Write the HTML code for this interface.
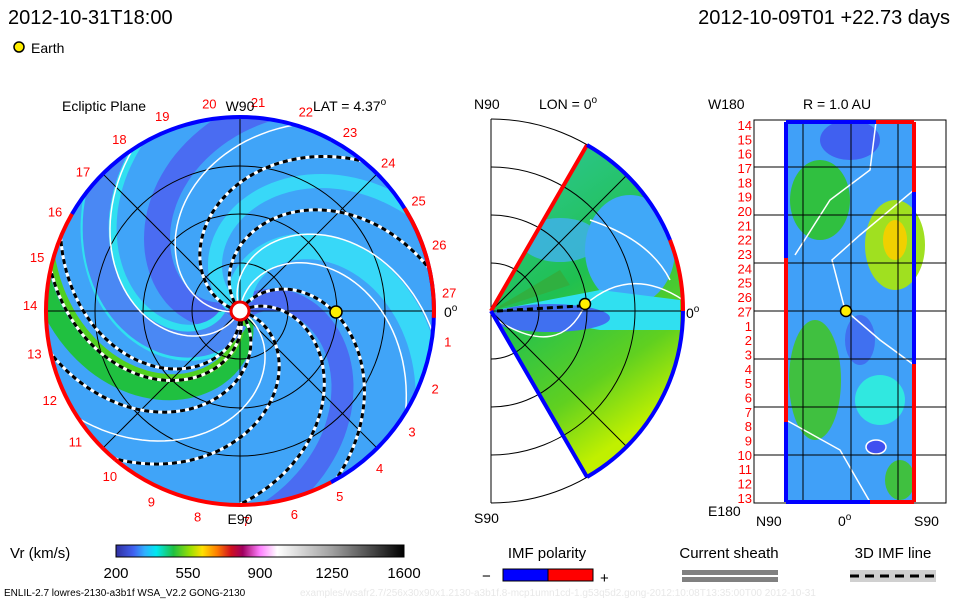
<!DOCTYPE html>
<html><head><meta charset="utf-8"><style>
body{margin:0;background:#fff;width:960px;height:600px;overflow:hidden}
svg{display:block;font-family:"Liberation Sans",sans-serif}
</style></head><body>
<svg id="s" width="960" height="600" viewBox="0 0 960 600">
<defs>
<clipPath id="disk"><circle cx="240" cy="311" r="194"/></clipPath>
<clipPath id="wedge"><path d="M491 311 L587 145 A192 192 0 0 1 587 477 Z"/></clipPath>
<linearGradient id="cb" x1="0" x2="1">
<stop offset="0" stop-color="#3030a0"/><stop offset="0.06" stop-color="#4060f0"/><stop offset="0.1" stop-color="#30b0ff"/>
<stop offset="0.14" stop-color="#00e8f0"/><stop offset="0.2" stop-color="#20c040"/><stop offset="0.26" stop-color="#a0e000"/>
<stop offset="0.3" stop-color="#ffe000"/><stop offset="0.35" stop-color="#ff8000"/><stop offset="0.4" stop-color="#d01020"/>
<stop offset="0.44" stop-color="#a00060"/><stop offset="0.5" stop-color="#ff80ff"/><stop offset="0.56" stop-color="#ffffff"/>
<stop offset="0.75" stop-color="#a0a0a0"/><stop offset="1" stop-color="#000"/></linearGradient>
<linearGradient id="wg" x1="0" y1="0" x2="0.4" y2="1">
<stop offset="0" stop-color="#30c8a0"/><stop offset="0.5" stop-color="#20c050"/><stop offset="0.8" stop-color="#60d020"/><stop offset="1" stop-color="#c0f000"/></linearGradient>
</defs>
<text x="8" y="24" font-size="20">2012-10-31T18:00</text>
<text x="950" y="24" font-size="20" text-anchor="end">2012-10-09T01 +22.73 days</text>
<circle cx="19" cy="47" r="5" fill="#ffee00" stroke="#000" stroke-width="1.5"/>
<text x="31" y="53" font-size="14">Earth</text>

<g id="ecl">
<circle cx="240" cy="311" r="194" fill="#40a4f8"/>
<g id="bands" clip-path="url(#disk)"></g>
<g id="grid1"></g>
<g id="arms" clip-path="url(#disk)"></g>
<g id="rim"></g>
<circle cx="240" cy="311" r="9" fill="#fff" stroke="#e00" stroke-width="3"/>
<circle cx="336" cy="312" r="6" fill="#ffee00" stroke="#000" stroke-width="1.5"/>
<text x="62" y="111" font-size="14">Ecliptic Plane</text>
<text x="313" y="111" font-size="14">LAT = 4.37<tspan dy="-6" font-size="10">o</tspan></text>
<text x="240" y="111" font-size="14" text-anchor="middle">W90</text>
<text x="240" y="524" font-size="14" text-anchor="middle">E90</text>
<text x="444" y="317" font-size="14">0<tspan dy="-6" font-size="10">o</tspan></text>
</g>

<g>
<path d="M491 311 L587 145 A192 192 0 0 1 587 477 Z" fill="url(#wg)"/>
<g clip-path="url(#wedge)">
<ellipse cx="560" cy="240" rx="40" ry="22" fill="#40b0f0" opacity="0.8"/>
<ellipse cx="630" cy="250" rx="45" ry="55" fill="#40a8f8"/>
<path d="M491 311 L600 290 L680 300 L680 330 L600 330 Z" fill="#30e0f0"/>
<ellipse cx="550" cy="318" rx="60" ry="14" fill="#4070f0"/>
<path d="M491 311 L560 270 L570 285 Z" fill="#30b040"/>
<path d="M497 320 Q560 360 585 305 Q630 265 683 300" fill="none" stroke="#fff" stroke-width="1.5"/>
<path d="M590 220 Q650 240 670 280" fill="none" stroke="#fff" stroke-width="1.5"/>
</g>
<g id="grid2"></g>
<path d="M491 311 L587 145" stroke="#f00" stroke-width="4"/>
<path d="M491 311 L587 477" stroke="#00f" stroke-width="4"/>
<path d="M587 145 A192 192 0 0 1 670 240" fill="none" stroke="#00f" stroke-width="4"/>
<path d="M670 240 A192 192 0 0 1 683 311" fill="none" stroke="#f00" stroke-width="4"/>
<path d="M683 311 A192 192 0 0 1 587 477" fill="none" stroke="#00f" stroke-width="4"/>
<path d="M497 311 L580 306" stroke="#000" stroke-width="3" stroke-dasharray="6,4"/>
<circle cx="585" cy="304" r="5.5" fill="#ffee00" stroke="#000" stroke-width="1.5"/>
<text x="474" y="109" font-size="14">N90</text>
<text x="539" y="109" font-size="14">LON = 0<tspan dy="-6" font-size="10">o</tspan></text>
<text x="474" y="523" font-size="14">S90</text>
<text x="686" y="318" font-size="14">0<tspan dy="-6" font-size="10">o</tspan></text>
</g>

<g>
<rect x="786" y="122" width="128" height="380" fill="#40a0f8"/>
<ellipse cx="820" cy="200" rx="30" ry="40" fill="#30c040"/>
<ellipse cx="895" cy="245" rx="30" ry="45" fill="#a0e020"/>
<ellipse cx="895" cy="240" rx="12" ry="20" fill="#f0d000"/>
<ellipse cx="815" cy="380" rx="26" ry="60" fill="#40c040"/>
<ellipse cx="850" cy="140" rx="30" ry="20" fill="#4060f0"/>
<ellipse cx="860" cy="340" rx="15" ry="25" fill="#4070f0"/>
<ellipse cx="880" cy="400" rx="25" ry="25" fill="#30e8e0"/>
<ellipse cx="900" cy="480" rx="15" ry="20" fill="#40c040"/>
<path d="M876 122 L870 170 L830 200 L795 255" fill="none" stroke="#fff" stroke-width="1.5"/>
<path d="M914 190 L860 235 L832 260 L845 310 L880 340 L914 365" fill="none" stroke="#fff" stroke-width="1.5"/>
<path d="M786 420 L840 450 L870 502" fill="none" stroke="#fff" stroke-width="1.5"/>
<ellipse cx="876" cy="447" rx="10" ry="7" fill="#4050f0" stroke="#fff" stroke-width="1.5"/>
<rect x="754" y="120" width="192" height="383" fill="none" stroke="#000"/>
<g id="grid3"></g>
<path d="M786 122 L876 122" stroke="#00f" stroke-width="4"/><path d="M876 122 L914 122" stroke="#f00" stroke-width="4"/>
<path d="M786 502 L870 502" stroke="#00f" stroke-width="4"/><path d="M870 502 L914 502" stroke="#f00" stroke-width="4"/>
<path d="M786 122 L786 258" stroke="#00f" stroke-width="4"/><path d="M786 258 L786 422" stroke="#f00" stroke-width="4"/><path d="M786 422 L786 502" stroke="#00f" stroke-width="4"/>
<path d="M914 122 L914 192" stroke="#f00" stroke-width="4"/><path d="M914 192 L914 364" stroke="#00f" stroke-width="4"/><path d="M914 364 L914 502" stroke="#f00" stroke-width="4"/>
<circle cx="846" cy="311" r="5.5" fill="#ffee00" stroke="#000" stroke-width="1.5"/>
<text x="803" y="109" font-size="14">R = 1.0 AU</text>
<text x="708" y="109" font-size="14">W180</text>
<text x="708" y="516" font-size="14">E180</text>
<text x="756" y="526" font-size="14">N90</text>
<text x="838" y="526" font-size="14">0<tspan dy="-6" font-size="10">o</tspan></text>
<text x="914" y="526" font-size="14">S90</text>
<g id="ylab"></g>
</g>

<g>
<text x="10" y="558" font-size="15">Vr (km/s)</text>
<rect x="116" y="545" width="288" height="12" fill="url(#cb)" stroke="#000"/>
<g id="cbt"></g>
</g>
<g>
<text x="547" y="558" font-size="15" text-anchor="middle">IMF polarity</text>
<rect x="503" y="569" width="45" height="12" fill="#00f" stroke="#000"/><rect x="548" y="569" width="45" height="12" fill="#f00" stroke="#000"/>
<text x="482" y="581" font-size="15">−</text><text x="600" y="583" font-size="15">+</text>
</g>
<g>
<text x="729" y="558" font-size="15" text-anchor="middle">Current sheath</text>
<rect x="682" y="570" width="96" height="5" fill="#808080"/><rect x="682" y="577" width="96" height="5" fill="#808080"/>
</g>
<g>
<text x="893" y="558" font-size="15" text-anchor="middle">3D IMF line</text>
<rect x="850" y="570" width="86" height="12" fill="#d0d0d0"/>
<path d="M850 576 L936 576" stroke="#000" stroke-width="3" stroke-dasharray="9,6"/>
</g>
<text x="4" y="596" font-size="10">ENLIL-2.7 lowres-2130-a3b1f WSA_V2.2 GONG-2130</text>
<text x="300" y="596" font-size="10" fill="#e8e8e8">examples/wsafr2.7/256x30x90x1.2130-a3b1f.8-mcp1umn1cd-1.g53q5d2.gong-2012:10:08T13:35:00T00   2012-10-31</text>
</svg>
<script>
const armStarts=[167,129,56,26,-14,-51,-76,-86];
const whiteStarts=[190,110,85,-30,-120];
const cbTicks=[200,550,900,1250,1600];
const carrLabels=[27,1,2,3,4,5,6,7,8,9,10,11,12,13,14,15,16,17,18,19,20,21,22,23,24,25,26];
const sphereLabels=[14,15,16,17,18,19,20,21,22,23,24,25,26,27,1,2,3,4,5,6,7,8,9,10,11,12,13];
const NS='http://www.w3.org/2000/svg';
const cx=240,cy=311,R=194,K=0.6;
function mk(t,a,p){const e=document.createElementNS(NS,t);for(const k in a)e.setAttribute(k,a[k]);p.appendChild(e);return e;}
function spiral(t0){let d='';for(let r=10;r<=R+20;r+=4){const th=(t0-K*r)*Math.PI/180;d+=(r==10?'M':'L')+(cx+r*Math.cos(th)).toFixed(1)+' '+(cy-r*Math.sin(th)).toFixed(1);}return d;}
const bands=document.getElementById('bands');
[[205,'#4a6cf2',26],[40,'#4a6cf2',22],[100,'#38d8f8',26],[150,'#38d8f8',14],[-112,'#30e0f0',36],[-68,'#20c040',20],[-78,'#50d020',8],[250,'#4a88f4',26]].forEach(b=>{
const e=mk('path',{d:spiral(b[0]),fill:'none',stroke:b[1],'stroke-width':b[2]},bands);

});
const g1=document.getElementById('grid1');
[48,97,145,194].forEach(r=>mk('circle',{cx,cy,r,fill:'none',stroke:'#000','stroke-width':1},g1));
[0,45,90,135].forEach(a=>{const t=a*Math.PI/180;mk('line',{x1:cx-R*Math.cos(t),y1:cy-R*Math.sin(t),x2:cx+R*Math.cos(t),y2:cy+R*Math.sin(t),stroke:'#000','stroke-width':1},g1);});
const arms=document.getElementById('arms');
whiteStarts.forEach(t=>{const e=mk('path',{d:spiral(t),fill:'none',stroke:'#fff','stroke-width':1.5},arms);

});
armStarts.forEach(t=>{mk('path',{d:spiral(t),fill:'none',stroke:'#fff','stroke-width':3},arms);
const e=mk('path',{d:spiral(t),fill:'none',stroke:'#000','stroke-width':3,'stroke-dasharray':'5,4'},arms);

});
const rim=document.getElementById('rim');
function arc(a0,a1,c){const p=a=>[cx+R*Math.cos(a*Math.PI/180),cy-R*Math.sin(a*Math.PI/180)];const s=p(a0),e=p(a1);
mk('path',{d:`M${s[0]} ${s[1]} A${R} ${R} 0 ${a1-a0>180?1:0} 0 ${e[0]} ${e[1]}`,fill:'none',stroke:c,'stroke-width':4},rim);}
arc(0,62,'#00f');arc(62,150,'#00f');arc(150,230,'#f00');arc(230,298,'#f00');arc(298,360,'#00f');arc(-2,8,'#f00');arc(8,32,'#f00');
carrLabels.forEach((v,i)=>{const a=(5-i*13.33)*Math.PI/180;const t=mk('text',{x:cx+(R+16)*Math.cos(a),y:cy-(R+16)*Math.sin(a)+5,'font-size':13,fill:'#f00','text-anchor':'middle'},rim);t.textContent=v;

});
const g2=document.getElementById('grid2');
mk('line',{x1:491,y1:119,x2:491,y2:503,stroke:'#000'},g2);
[48,96,144,192].forEach(r=>mk('path',{d:`M491 ${311-r} A${r} ${r} 0 0 1 491 ${311+r}`,fill:'none',stroke:'#000'},g2));
mk('line',{x1:491,y1:311,x2:683,y2:311,stroke:'#000'},g2);
mk('line',{x1:491,y1:311,x2:628,y2:174,stroke:'#000'},g2);mk('line',{x1:491,y1:311,x2:628,y2:448,stroke:'#000'},g2);
const g3=document.getElementById('grid3');
[803,851,898].forEach(x=>mk('line',{x1:x,y1:120,x2:x,y2:503,stroke:'#000'},g3));
[167,215,263,311,359,407,455].forEach(y=>mk('line',{x1:754,y1:y,x2:946,y2:y,stroke:'#000'},g3));
const yl=document.getElementById('ylab');
sphereLabels.forEach((v,i)=>{const t=mk('text',{x:752,y:130+i*14.34,'font-size':13,fill:'#f00','text-anchor':'end'},yl);t.textContent=v;

});
const cbt=document.getElementById('cbt');
cbTicks.forEach(v=>{const x=116+(v-200)/1400*288;const t=mk('text',{x,y:578,'font-size':15,'text-anchor':'middle'},cbt);t.textContent=v;

});
</script>
</body></html>
